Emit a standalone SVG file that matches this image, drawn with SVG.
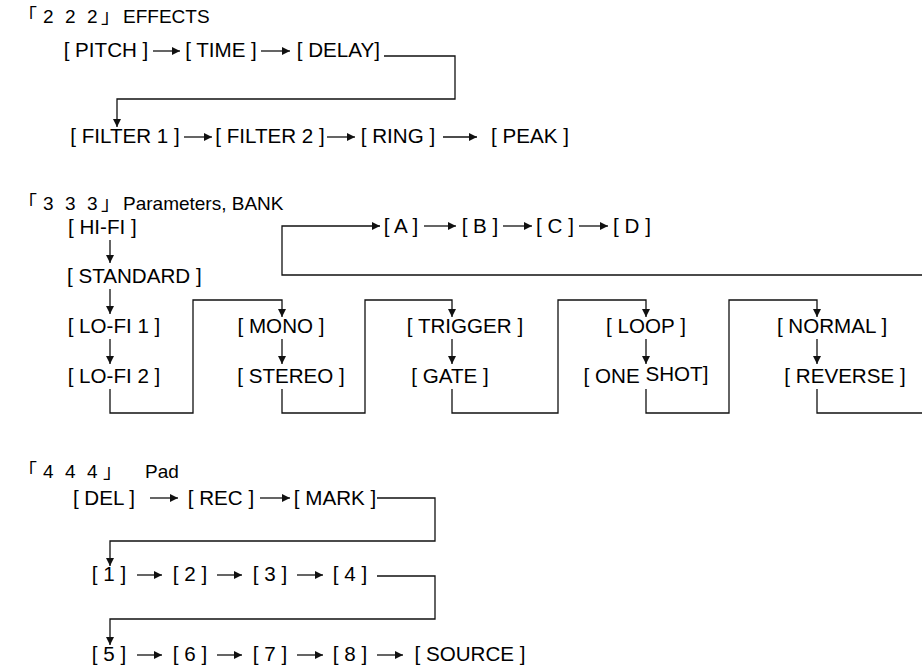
<svg xmlns="http://www.w3.org/2000/svg" width="922" height="666" viewBox="0 0 922 666">
<defs>
<style>
.t{font-family:"Liberation Sans","Noto Sans CJK JP",Arial,sans-serif;font-size:20px;fill:#000;text-anchor:middle;transform-box:fill-box;transform-origin:center;transform:scaleX(1.03)}
.h{font-family:"Liberation Sans","Noto Sans CJK JP",Arial,sans-serif;font-size:19px;fill:#000}
.s{text-anchor:start}
.ln{fill:none;stroke:#111;stroke-width:1.3}
.ar{fill:none;stroke:#111;stroke-width:1.3;marker-end:url(#ah)}
</style>
<marker id="ah" viewBox="0 0 10 10" refX="10" refY="5" markerWidth="8" markerHeight="8" markerUnits="userSpaceOnUse" orient="auto">
<path d="M0,0 L10,5 L0,10 z" fill="#111"/>
</marker>
</defs>
<rect width="922" height="666" fill="#fff"/>

<!-- Section 222 -->
<g id="title222"><text class="h" y="23"><tspan x="18">「</tspan><tspan x="43">2</tspan><tspan x="65">2</tspan><tspan x="87">2</tspan><tspan x="101">」</tspan><tspan x="123">EFFECTS</tspan></text></g>
<g id="pitch"><text class="t" x="106" y="57">[ PITCH ]</text></g>
<g id="time"><text class="t" x="221" y="57">[ TIME ]</text></g>
<g id="delay"><text class="t s" x="298" y="57">[ DELAY]</text></g>
<g id="filter1"><text class="t" x="125" y="143">[ FILTER 1 ]</text></g>
<g id="filter2"><text class="t" x="270" y="143">[ FILTER 2 ]</text></g>
<g id="ring"><text class="t" x="398" y="143">[ RING ]</text></g>
<g id="peak"><text class="t" x="530" y="143">[ PEAK ]</text></g>

<!-- Section 333 -->
<g id="title333"><text class="h" y="210"><tspan x="18">「</tspan><tspan x="43">3</tspan><tspan x="65">3</tspan><tspan x="87">3</tspan><tspan x="101">」</tspan><tspan x="123">Parameters, BANK</tspan></text></g>
<g id="hifi"><text class="t s" x="69" y="234">[ HI-FI ]</text></g>
<g id="standard"><text class="t s" x="69" y="283">[ STANDARD ]</text></g>
<g id="lofi1"><text class="t s" x="69" y="333">[ LO-FI 1 ]</text></g>
<g id="lofi2"><text class="t s" x="69" y="383">[ LO-FI 2 ]</text></g>
<g id="mono"><text class="t" x="281" y="333">[ MONO ]</text></g>
<g id="stereo"><text class="t" x="291" y="383">[ STEREO ]</text></g>
<g id="trigger"><text class="t" x="465" y="333">[ TRIGGER ]</text></g>
<g id="gate"><text class="t" x="450" y="383">[ GATE ]</text></g>
<g id="loop"><text class="t" x="646" y="333">[ LOOP ]</text></g>
<g id="oneshot"><text class="t" x="646" y="383">[ ONE <tspan dy="-2">SHOT]</tspan></text></g>
<g id="normal"><text class="t" x="832" y="333">[ NORMAL ]</text></g>
<g id="reverse"><text class="t" x="845" y="383">[ REVERSE ]</text></g>
<g id="bankA"><text class="t" x="401" y="233">[ A ]</text></g>
<g id="bankB"><text class="t" x="480" y="233">[ B ]</text></g>
<g id="bankC"><text class="t" x="555" y="233">[ C ]</text></g>
<g id="bankD"><text class="t" x="632" y="233">[ D ]</text></g>

<!-- Section 444 -->
<g id="title444"><text class="h" y="478"><tspan x="18">「</tspan><tspan x="43">4</tspan><tspan x="65">4</tspan><tspan x="87">4</tspan><tspan x="103">」</tspan><tspan x="145">Pad</tspan></text></g>
<g id="del"><text class="t" x="104" y="505">[ DEL ]</text></g>
<g id="rec"><text class="t" x="221" y="505">[ REC ]</text></g>
<g id="mark"><text class="t" x="335" y="505">[ MARK ]</text></g>
<g id="p1"><text class="t" x="109" y="581">[ 1 ]</text></g>
<g id="p2"><text class="t" x="190" y="581">[ 2 ]</text></g>
<g id="p3"><text class="t" x="270" y="581">[ 3 ]</text></g>
<g id="p4"><text class="t" x="350" y="581">[ 4 ]</text></g>
<g id="p5"><text class="t" x="109" y="661">[ 5 ]</text></g>
<g id="p6"><text class="t" x="190" y="661">[ 6 ]</text></g>
<g id="p7"><text class="t" x="270" y="661">[ 7 ]</text></g>
<g id="p8"><text class="t" x="350" y="661">[ 8 ]</text></g>
<g id="source"><text class="t" x="470" y="661">[ SOURCE ]</text></g>

<g id="connectors">
<!-- 222 -->
<path class="ar" d="M153 51 H180"/>
<path class="ar" d="M261 51 H290"/>
<path class="ar" d="M384 56 H455 V99 H117 V127"/>
<path class="ar" d="M184 137 H212"/>
<path class="ar" d="M327 137 H355"/>
<path class="ar" d="M443 137 H477"/>
<!-- 333 -->
<path class="ar" d="M922 275 H282 V226 H380"/>
<path class="ar" d="M424 226 H456"/>
<path class="ar" d="M503 226 H532"/>
<path class="ar" d="M579 226 H608"/>
<path class="ar" d="M110 240 V263"/>
<path class="ar" d="M110 289 V314"/>
<path class="ar" d="M110 339 V364"/>
<path class="ar" d="M282 339 V364"/>
<path class="ar" d="M452 339 V364"/>
<path class="ar" d="M646 339 V364"/>
<path class="ar" d="M817 339 V364"/>
<path class="ar" d="M110 389 V413 H193 V300 H282 V317"/>
<path class="ar" d="M282 389 V413 H365 V300 H452 V317"/>
<path class="ar" d="M452 389 V413 H558 V300 H646 V317"/>
<path class="ar" d="M646 389 V413 H729 V300 H817 V317"/>
<path class="ln" d="M817 389 V413 H922"/>
<!-- 444 -->
<path class="ar" d="M150 498 H178"/>
<path class="ar" d="M260 498 H290"/>
<path class="ar" d="M377 498 H435 V541 H110 V566"/>
<path class="ar" d="M137 575 H162"/>
<path class="ar" d="M217 575 H242"/>
<path class="ar" d="M297 575 H323"/>
<path class="ar" d="M377 576 H435 V619 H110 V645"/>
<path class="ar" d="M137 655 H162"/>
<path class="ar" d="M217 655 H242"/>
<path class="ar" d="M297 655 H323"/>
<path class="ar" d="M377 655 H403"/>
</g>
</svg>
